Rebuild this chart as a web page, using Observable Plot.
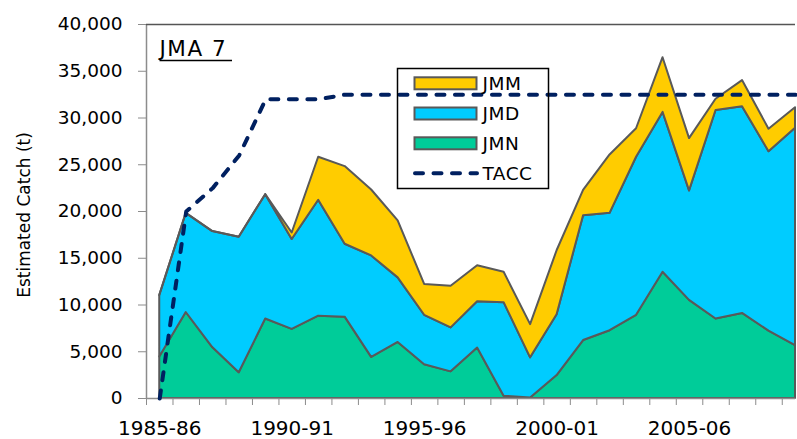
<!DOCTYPE html>
<html><head><meta charset="utf-8">
<script src="https://cdn.jsdelivr.net/npm/d3@7"></script>
<script src="https://cdn.jsdelivr.net/npm/@observablehq/plot@0.6"></script>
<style>body{margin:0;background:#fff;} #chart svg{display:block;}</style>
</head><body><div id="chart"></div>
<script>
const seasons = ["1985-86","1986-87","1987-88","1988-89","1989-90","1990-91","1991-92","1992-93","1993-94","1994-95","1995-96","1996-97","1997-98","1998-99","1999-00","2000-01","2001-02","2002-03","2003-04","2004-05","2005-06","2006-07","2007-08","2008-09","2009-10"];
const jmn = [4450, 9200, 5450, 2750, 8500, 7400, 8800, 8700, 4400, 6000, 3600, 2850, 5400, 250, 50, 2450, 6200, 7250, 8900, 13500, 10500, 8500, 9100, 7200, 5650];
const jmd = [6550, 10600, 12400, 14500, 13300, 9600, 12400, 7800, 10850, 6900, 5300, 4700, 4950, 10000, 4300, 6500, 13350, 12550, 16900, 17100, 11700, 22300, 22100, 19200, 23250];
const jmm = [0, 0, 0, 0, 0, 700, 4600, 8300, 7050, 6100, 3300, 4450, 3850, 3250, 3550, 6850, 2700, 6250, 3050, 5850, 5600, 1200, 2800, 2400, 2200];
const tacc = [0, 20000, 22500, 26000, 32000, 32000, 32000, 32500, 32500, 32500, 32500, 32500, 32500, 32500, 32500, 32500, 32500, 32500, 32500, 32500, 32500, 32500, 32500, 32500, 32500];
const yTicks = [0, 5000, 10000, 15000, 20000, 25000, 30000, 35000, 40000];
const labelIdx = [0, 5, 10, 15, 20];
const seriesKeys = ["JMN", "JMD", "JMM"];
const seriesColors = ["#00CC99", "#00CCFF", "#FFCC00"];

const seriesVals = {JMN: jmn, JMD: jmd, JMM: jmm};
const rows = seriesKeys.flatMap(k => seriesVals[k].map((v, i) => ({i, series: k, value: v})));
const taccRows = tacc.map((v, i) => ({i, value: v}));
const boundaries = d3.range(25).map(k => k - 0.5);

const chart = Plot.plot({
  width: 797, height: 439,
  marginLeft: 146, marginRight: 2, marginTop: 24, marginBottom: 41,
  style: {fontFamily: "DejaVu Sans", background: "#fff", color: "#000"},
  x: {type: "linear", domain: [-0.5, 24]},
  y: {domain: [0, 40000]},
  color: {domain: seriesKeys, range: seriesColors},
  marks: [
    Plot.areaY(rows, {x: "i", y: "value", fill: "series", z: "series", stroke: "#595959", strokeWidth: 2, strokeLinejoin: "round"}),
    Plot.ruleY([0], {stroke: "#8c8c8c", strokeWidth: 1.5}),
    Plot.ruleX([-0.5], {stroke: "#8c8c8c", strokeWidth: 1.5}),
    Plot.ruleY([40000], {stroke: "#555", strokeWidth: 1.5}),
    Plot.line(taccRows, {x: "i", y: "value", stroke: "#002060", strokeWidth: 4, strokeDasharray: "8,10.5", strokeLinecap: "round", strokeLinejoin: "round"}),
    Plot.axisY({ticks: yTicks, tickFormat: d3.format(","), tickSize: 8, tickPadding: 16, fontSize: 18.5, stroke: "#8c8c8c", fill: "#000", label: null}),
    Plot.axisX({ticks: boundaries, tickSize: 7, tickFormat: () => "", stroke: "#8c8c8c", label: null}),
    Plot.axisX({ticks: labelIdx, tickSize: 0, tickPadding: 21.8, tickFormat: i => seasons[i], fontSize: 20, fill: "#000", label: null})
  ]
});
document.getElementById("chart").appendChild(chart);

const g = d3.select(chart).append("g").attr("font-family", "DejaVu Sans").attr("fill", "#000").attr("text-anchor", "start");
// panel title
g.append("text").attr("x", 159.5).attr("y", 55.5).attr("font-size", 21.5).attr("letter-spacing", 1.5).attr("text-anchor", "start").text("JMA 7");
g.append("line").attr("x1", 159.5).attr("x2", 232).attr("y1", 60.5).attr("y2", 60.5).attr("stroke", "#000").attr("stroke-width", 1.6);
// y axis title
g.append("text").attr("transform", "translate(30,215) rotate(-90)").attr("text-anchor", "middle").attr("font-size", 17).text("Estimated Catch (t)");
// legend
const lg = g.append("g");
lg.append("rect").attr("x", 397.5).attr("y", 68.5).attr("width", 151).attr("height", 120).attr("fill", "none").attr("stroke", "#000").attr("stroke-width", 1.5);
const legendItems = [
  {key: "JMM", color: "#FFCC00", cy: 83.3},
  {key: "JMD", color: "#00CCFF", cy: 113.5},
  {key: "JMN", color: "#00CC99", cy: 143.3},
  {key: "TACC", color: null, cy: 173.3}
];
legendItems.forEach(d => {
  if (d.color) {
    lg.append("rect").attr("x", 414.5).attr("y", d.cy - 6).attr("width", 62).attr("height", 12).attr("fill", d.color).attr("stroke", "#595959").attr("stroke-width", 2);
  } else {
    lg.append("line").attr("x1", 415).attr("x2", 477).attr("y1", d.cy).attr("y2", d.cy).attr("stroke", "#002060").attr("stroke-width", 4).attr("stroke-dasharray", "8,10.5").attr("stroke-linecap", "round");
  }
  lg.append("text").attr("x", 482.5).attr("y", d.cy).attr("dy", "0.36em").attr("font-size", 18.5).attr("letter-spacing", 0.5).attr("text-anchor", "start").text(d.key);
});
</script></body></html>
